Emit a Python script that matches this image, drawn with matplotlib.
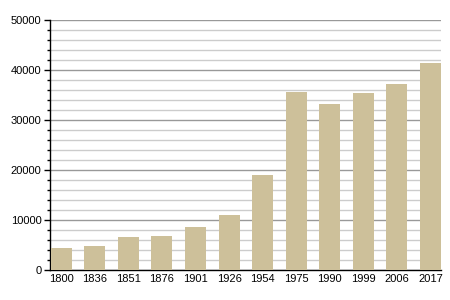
import matplotlib
matplotlib.use("Agg")
import matplotlib.pyplot as plt
from matplotlib.ticker import MultipleLocator

years = ["1800", "1836", "1851", "1876", "1901", "1926", "1954", "1975", "1990", "1999", "2006", "2017"]
population = [4400, 4800, 6600, 6800, 8600, 11000, 19000, 35600, 33200, 35400, 37200, 41400]

plt.rcParams['font.family'] = ['Liberation Sans', 'DejaVu Sans']

fig = plt.figure(figsize=(4.5, 3.0), dpi=100)
ax = fig.add_axes([50/450, 30/300, 391/450, 250/300])

x = list(range(len(years)))
ax.bar(x, population, width=0.625, color="#cdc09a", zorder=3)

ax.set_xlim(-0.33, len(years) - 1 + 0.31)
ax.set_ylim(0, 50000)
ax.set_xticks(x)
ax.set_xticklabels(years)
ax.yaxis.set_major_locator(MultipleLocator(10000))
ax.yaxis.set_minor_locator(MultipleLocator(2000))
ax.grid(axis='y', which='major', color='#999999', linewidth=1.0, zorder=1)
ax.grid(axis='y', which='minor', color='#cccccc', linewidth=1.0, zorder=1)

for s in ['top', 'right']:
    ax.spines[s].set_visible(False)
ax.spines['left'].set_linewidth(1.0)
ax.spines['bottom'].set_linewidth(1.0)
ax.tick_params(axis='x', length=0, labelsize=8, pad=3)
ax.tick_params(axis='y', which='major', length=4, width=1, labelsize=8, pad=2)
ax.tick_params(axis='y', which='minor', length=2, width=1)

fig.savefig("out.png", dpi=100)
